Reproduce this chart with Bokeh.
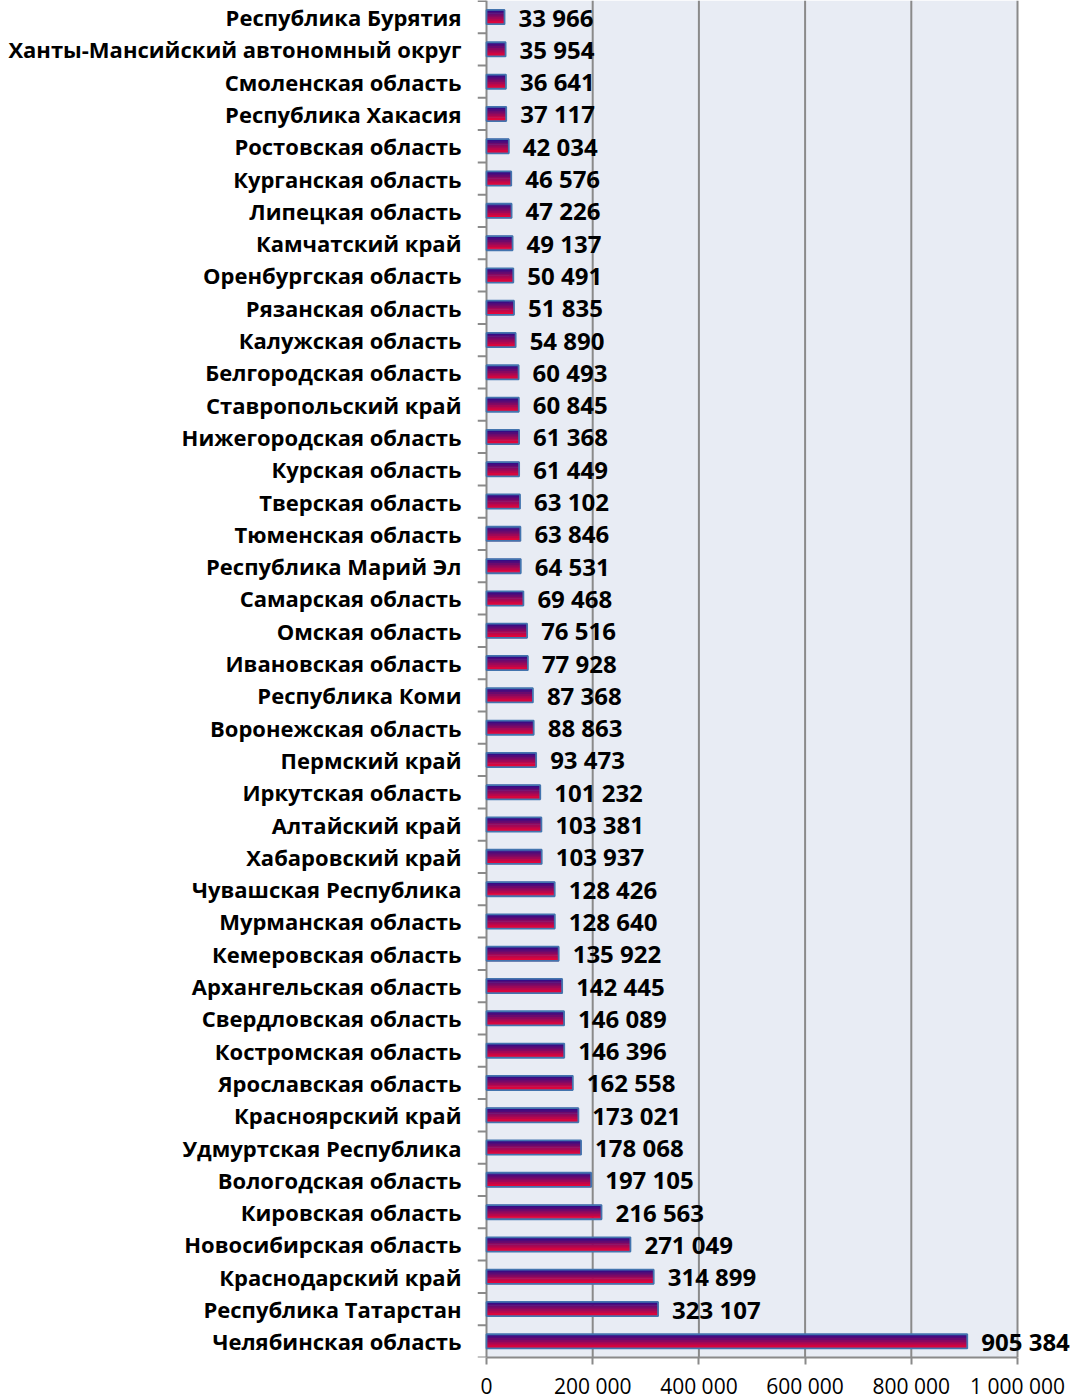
from bokeh.plotting import figure
from bokeh.models import Range1d, FixedTicker, ColumnDataSource
from bokeh.transform import dodge
from bokeh.core.properties import value
from bokeh.embed import file_html
from bokeh.resources import INLINE

# ---- data (top to bottom as in the chart) ----
regions = [
    "Республика Бурятия", "Ханты-Мансийский автономный округ", "Смоленская область",
    "Республика Хакасия", "Ростовская область", "Курганская область", "Липецкая область",
    "Камчатский край", "Оренбургская область", "Рязанская область", "Калужская область",
    "Белгородская область", "Ставропольский край", "Нижегородская область", "Курская область",
    "Тверская область", "Тюменская область", "Республика Марий Эл", "Самарская область",
    "Омская область", "Ивановская область", "Республика Коми", "Воронежская область",
    "Пермский край", "Иркутская область", "Алтайский край", "Хабаровский край",
    "Чувашская Республика", "Мурманская область", "Кемеровская область",
    "Архангельская область", "Свердловская область", "Костромская область",
    "Ярославская область", "Красноярский край", "Удмуртская Республика",
    "Вологодская область", "Кировская область", "Новосибирская область",
    "Краснодарский край", "Республика Татарстан", "Челябинская область",
]
values = [
    33966, 35954, 36641, 37117, 42034, 46576, 47226, 49137, 50491, 51835, 54890,
    60493, 60845, 61368, 61449, 63102, 63846, 64531, 69468, 76516, 77928, 87368,
    88863, 93473, 101232, 103381, 103937, 128426, 128640, 135922, 142445, 146089,
    146396, 162558, 173021, 178068, 197105, 216563, 271049, 314899, 323107, 905384,
]
x_ticks = [0, 200000, 400000, 600000, 800000, 1000000]
x_tick_labels = ["0", "200 000", "400 000", "600 000", "800 000", "1 000 000"]

n = len(regions)
ypos = [n - 1 - i for i in range(n)]          # bottom category at 0
labels = [f"{v:,}".replace(",", " ") for v in values]
src = ColumnDataSource(dict(y=ypos, value=values, label=labels, name=regions))

FONT = "Open Sans"
FRAME_W = 600
FRAME_H = 1357
PX = 1e6 / 531.0            # data units per pixel along x
TICK_LEN = 9                # y tick length in px
X0 = -TICK_LEN * PX
X1 = X0 + FRAME_W * PX
BAND = 32.3
Y_TOP = -0.5 + FRAME_H / BAND

p = figure(
    output_backend="svg", toolbar_location=None,
    frame_width=FRAME_W, frame_height=FRAME_H,
    min_border_left=477, min_border_right=0, min_border_top=0, min_border_bottom=40,
    x_range=Range1d(X0, X1), y_range=Range1d(-0.5, Y_TOP),
    background_fill_color="white", border_fill_color="white",
)
p.outline_line_color = None
p.xgrid.visible = False
p.ygrid.visible = False

GRID_C = "#8a8a8a"
# plot-area background and vertical gridlines
p.quad(left=[0], right=[x_ticks[-1]], bottom=[-0.5], top=[Y_TOP],
       fill_color="#e8ecf4", line_color=None)
p.segment(x0=x_ticks[1:], x1=x_ticks[1:], y0=[-0.5] * 5, y1=[Y_TOP] * 5,
          line_color=GRID_C, line_width=2)
# y axis line and boundary ticks
bounds = [k - 0.5 for k in range(n + 1)]
p.segment(x0=[0], x1=[0], y0=[-0.5], y1=[Y_TOP], line_color=GRID_C, line_width=2)
p.segment(x0=[X0] * len(bounds), x1=[0] * len(bounds), y0=bounds, y1=bounds,
          line_color=GRID_C, line_width=2)

# gradient bars: dark blue on top -> red at bottom
BAR_H = 0.44
NS = 8
top_c = (38, 12, 140)
bot_c = (255, 5, 45)
for j in range(NS):
    t = (j + 0.5) / NS  # 0 bottom -> 1 top
    c = tuple(int(round(bot_c[k] + (top_c[k] - bot_c[k]) * t)) for k in range(3))
    off = -BAR_H / 2 + (j + 0.5) * BAR_H / NS
    p.hbar(y=dodge("y", off, range=p.y_range), left=0, right="value",
           height=BAR_H / NS * 1.35, fill_color="#%02x%02x%02x" % c, line_color=None, source=src)
p.hbar(y="y", left=0, right="value", height=BAR_H, fill_color=None,
       line_color="#4374ae", line_width=1.8, source=src)

# value labels
p.text(x="value", y="y", text="label", source=src, x_offset=14,
       text_align="left", text_baseline="middle",
       text_font=value(FONT), text_font_style="bold", text_font_size="24px",
       text_color="black")

# x axis
xa = p.xaxis[0]
xa.ticker = FixedTicker(ticks=x_ticks)
xa.bounds = (0, x_ticks[-1])
xa.major_label_overrides = {t: s for t, s in zip(x_ticks, x_tick_labels)}
xa.major_tick_out = 7
xa.major_tick_in = 0
xa.minor_tick_line_color = None
xa.axis_line_color = GRID_C
xa.axis_line_width = 2
xa.major_tick_line_color = GRID_C
xa.major_tick_line_width = 2
xa.major_label_text_font = FONT
xa.major_label_text_font_size = "21px"
xa.major_label_text_color = "black"
xa.major_label_standoff = 7

# category labels on the y axis
ya = p.yaxis[0]
ya.ticker = FixedTicker(ticks=ypos)
ya.major_label_overrides = {y: s for y, s in zip(ypos, regions)}
ya.axis_line_color = None
ya.major_tick_line_color = None
ya.minor_tick_line_color = None
ya.major_tick_out = 0
ya.major_tick_in = 0
ya.major_label_standoff = 16
ya.major_label_text_font = FONT
ya.major_label_text_font_style = "bold"
ya.major_label_text_font_size = "22px"
ya.major_label_text_color = "black"

open("out.html", "w").write(file_html(p, INLINE))
